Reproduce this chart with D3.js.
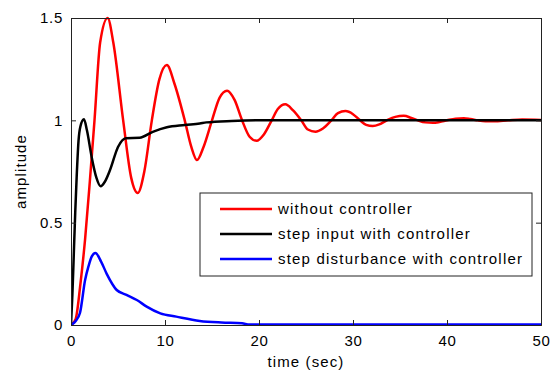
<!doctype html>
<html>
<head>
<title>step response</title>
<script src="https://d3js.org/d3.v7.min.js"></script>
<style>
  body { margin: 0; background: #fff; }
  text { font-family: "Liberation Sans", Arial, sans-serif; fill: #000; }
</style>
</head>
<body>
<svg id="chart" width="555" height="374"></svg>
<script>
// values
const seriesNames = ["without controller", "step input with controller", "step disturbance with controller"]
const seriesColors = ["#ff0000", "#000000", "#0000ff"]

const tRed = [0, 0.5, 1.0, 1.5, 2.0, 2.5, 3.1, 3.9, 4.5, 5.55, 6.4, 7.1, 7.8, 8.6, 9.4, 10.2, 11.0, 12.1, 12.8, 13.4, 14.1, 15.0, 15.8, 16.6, 17.4, 18.2, 19.0, 19.75, 20.5, 21.35, 22.0, 22.8, 23.6, 24.5, 25.2, 26.0, 26.8, 27.7, 28.4, 29.2, 30.0, 30.75, 31.4, 32.1, 32.8, 33.6, 34.5, 35.4, 36.2, 36.9, 37.7, 38.5, 39.2, 40.0, 40.9, 41.8, 42.5, 43.3, 44.1, 45.0, 46.5, 48.0, 50.0]
const yRed = [0, 0.03, 0.2, 0.42, 0.7, 1.0, 1.38, 1.5, 1.38, 1.0, 0.72, 0.645, 0.75, 1.0, 1.2, 1.27, 1.18, 1.0, 0.87, 0.806, 0.87, 1.0, 1.11, 1.145, 1.1, 1.0, 0.92, 0.9, 0.93, 1.0, 1.055, 1.078, 1.05, 1.0, 0.955, 0.944, 0.96, 1.0, 1.035, 1.045, 1.03, 1.0, 0.978, 0.972, 0.98, 1.0, 1.017, 1.022, 1.012, 1.0, 0.99, 0.988, 0.992, 1.0, 1.008, 1.01, 1.006, 1.0, 0.996, 0.995, 1.0, 1.004, 1.002]

const tBlack = [0, 0.15, 0.3, 0.45, 0.6, 0.8, 1.0, 1.38, 1.7, 2.2, 2.7, 3.15, 3.6, 4.15, 5.0, 5.85, 7.3, 8.7, 10.2, 12.1, 13.7, 14.4, 17.1, 20.0, 50.0]
const yBlack = [0, 0.15, 0.35, 0.55, 0.72, 0.9, 0.97, 1.005, 0.95, 0.82, 0.72, 0.678, 0.7, 0.757, 0.87, 0.913, 0.915, 0.944, 0.966, 0.977, 0.985, 0.99, 0.997, 1.0, 1.0]

const tBlue = [0, 0.5, 0.96, 1.5, 1.85, 2.2, 2.6, 3.2, 3.8, 4.86, 5.9, 7.0, 8.05, 9.5, 11.2, 13.7, 16.0, 18.2, 19.0, 50.0]
const yBlue = [0, 0.02, 0.06, 0.22, 0.285, 0.334, 0.352, 0.31, 0.25, 0.171, 0.147, 0.122, 0.09, 0.057, 0.041, 0.02, 0.012, 0.008, 0.002, 0.002]

const xTicks = [0, 10, 20, 30, 40, 50]
const yTicks = [0, 0.5, 1, 1.5]

// layout
const PLOT_L = 71, PLOT_R = 541, PLOT_T = 18, PLOT_B = 325
const TICK = 5

const svg = d3.select("#chart")
svg.append("rect").attr("width", 555).attr("height", 374).attr("fill", "#fff")

const x = d3.scaleLinear().domain([0, 50]).range([PLOT_L, PLOT_R])
const y = d3.scaleLinear().domain([0, 1.5]).range([PLOT_B, PLOT_T])

svg.append("defs").append("clipPath").attr("id", "plotArea")
    .append("rect").attr("x", PLOT_L).attr("y", PLOT_T - 2)
    .attr("width", PLOT_R - PLOT_L).attr("height", PLOT_B - PLOT_T + 2)

const line = d3.line()
    .x(d => x(d[0]))
    .y(d => y(d[1]))
    .curve(d3.curveMonotoneX)

const allSeries = [
    d3.zip(tRed, yRed),
    d3.zip(tBlack, yBlack),
    d3.zip(tBlue, yBlue)
]

svg.append("g").attr("clip-path", "url(#plotArea)")
    .selectAll("path").data(allSeries).enter()
    .append("path")
    .attr("d", line)
    .attr("fill", "none")
    .attr("stroke", (d, i) => seriesColors[i])
    .attr("stroke-width", 2.5)
    .attr("stroke-linejoin", "round")

// axes box with inward ticks on all sides
const axisColor = "#222"
const bottomAxis = d3.axisBottom(x).tickValues(xTicks).tickSize(-TICK).tickPadding(10).tickFormat(d3.format("d"))
const topAxis = d3.axisTop(x).tickValues(xTicks).tickSize(-TICK).tickFormat("")
const leftAxis = d3.axisLeft(y).tickValues(yTicks).tickSize(-TICK).tickPadding(8).tickFormat(d => String(d))
const rightAxis = d3.axisRight(y).tickValues(yTicks).tickSize(-TICK).tickFormat("")

function styleAxis(g) {
    g.select(".domain").attr("stroke", axisColor).attr("stroke-width", 1)
    g.selectAll(".tick line").attr("stroke", axisColor)
    g.selectAll(".tick text")
        .attr("font-family", "Liberation Sans, Arial, sans-serif")
        .attr("font-size", 15).attr("fill", "#000")
        .style("letter-spacing", "0.7px")
}

svg.append("g").attr("transform", `translate(0,${PLOT_B})`).call(bottomAxis).call(styleAxis)
svg.append("g").attr("transform", `translate(0,${PLOT_T})`).call(topAxis).call(styleAxis)
svg.append("g").attr("transform", `translate(${PLOT_L},0)`).call(leftAxis).call(styleAxis)
svg.append("g").attr("transform", `translate(${PLOT_R},0)`).call(rightAxis).call(styleAxis)

// axis labels
svg.append("text")
    .attr("x", (PLOT_L + PLOT_R) / 2).attr("y", 367)
    .attr("text-anchor", "middle")
    .attr("font-size", 15).style("letter-spacing", "1.1px")
    .text("time (sec)")

svg.append("text")
    .attr("transform", `translate(26,${(PLOT_T + PLOT_B) / 2}) rotate(-90)`)
    .attr("text-anchor", "middle")
    .attr("font-size", 15).style("letter-spacing", "1.1px")
    .text("amplitude")

// legend
const legend = svg.append("g")
legend.append("rect")
    .attr("x", 200).attr("y", 193).attr("width", 332).attr("height", 83)
    .attr("fill", "#fff").attr("stroke", axisColor).attr("stroke-width", 1)

const rows = legend.selectAll("g.row").data(seriesNames).enter()
    .append("g").attr("class", "row")
    .attr("transform", (d, i) => `translate(0,${209 + i * 25})`)
rows.append("line")
    .attr("x1", 220).attr("x2", 272)
    .attr("stroke", (d, i) => seriesColors[i]).attr("stroke-width", 2.5)
rows.append("text")
    .attr("x", 278).attr("y", 5)
    .attr("font-size", 15).style("letter-spacing", "1.2px")
    .text(d => d)
</script>
</body>
</html>
